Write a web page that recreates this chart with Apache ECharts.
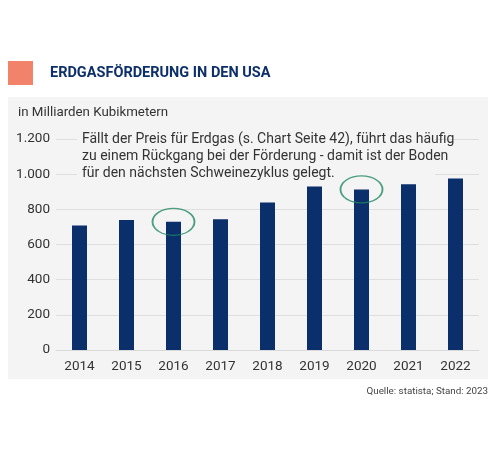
<!DOCTYPE html>
<html><head><meta charset="utf-8">
<script src="https://cdn.jsdelivr.net/npm/echarts@6/dist/echarts.min.js"></script>
<style>html,body{margin:0;padding:0;background:#fff}#c{width:500px;height:454px}</style>
</head><body><div id="c"></div>
<script>
const categories = ['2014','2015','2016','2017','2018','2019','2020','2021','2022'];
const production = [708, 740, 729, 744, 839, 930, 913, 943, 975];
const highlighted = [['2016', 729], ['2020', 913]];
const yTicks = [0, 200, 400, 600, 800, 1000, 1200];

const chart = echarts.init(document.getElementById('c'), null, {renderer: 'canvas'});
const FONT = 'Roboto';
const fmt = v => String(v).replace(/\B(?=(\d{3})+(?!\d))/g, '.');
chart.setOption({
  backgroundColor: '#ffffff',
  animation: false,
  graphic: [
    {type: 'rect', shape: {x: 8, y: 97, width: 480, height: 282}, style: {fill: '#f4f4f4'}, z: -10},
    {type: 'rect', shape: {x: 8, y: 61, width: 25, height: 24}, style: {fill: '#f0836a'}},
    {type: 'text', left: 50, top: 66, style: {text: 'ERDGASFÖRDERUNG IN DEN USA', fill: '#0d2f6a', font: 'bold 14.5px ' + FONT}},
    {type: 'text', left: 18, top: 106, style: {text: 'in Milliarden Kubikmetern', fill: '#333333', font: '13.3px ' + FONT}},
    {type: 'rect', shape: {x: 77, y: 130, width: 358, height: 46}, style: {fill: '#f4f4f4'}, z: 1},
    {type: 'text', left: 82, top: 131, z: 2, style: {text: 'Fällt der Preis für Erdgas (s. Chart Seite 42), führt das häufig\nzu einem Rückgang bei der Förderung - damit ist der Boden\nfür den nächsten Schweinezyklus gelegt.', fill: '#333333', font: '14px ' + FONT, lineHeight: 17}},
    {type: 'text', right: 12, top: 387, style: {text: 'Quelle: statista; Stand: 2023', fill: '#444444', font: '9.8px ' + FONT}}
  ],
  grid: {left: 56, right: 21, top: 139, bottom: 104, containLabel: false},
  xAxis: {
    type: 'category', data: categories,
    axisLine: {show: true, lineStyle: {color: '#d8d8d8'}},
    axisTick: {show: false},
    axisLabel: {color: '#333333', fontFamily: FONT, fontSize: 13.5, margin: 10}
  },
  yAxis: {
    type: 'value', min: yTicks[0], max: yTicks[yTicks.length - 1], interval: 200,
    axisLine: {show: false}, axisTick: {show: false},
    splitLine: {lineStyle: {color: '#dedede', width: 1}},
    axisLabel: {color: '#333333', fontFamily: FONT, fontSize: 13.5, margin: 6, formatter: fmt}
  },
  series: [
    {type: 'bar', data: production, barWidth: 15, itemStyle: {color: '#0a2f6b'}, z: 2},
    {type: 'scatter', data: highlighted, symbol: 'circle', symbolSize: [42, 27],
     itemStyle: {color: 'rgba(0,0,0,0)', borderColor: '#1f8a63', borderWidth: 1.5}, z: 5, silent: true}
  ]
});
</script></body></html>
